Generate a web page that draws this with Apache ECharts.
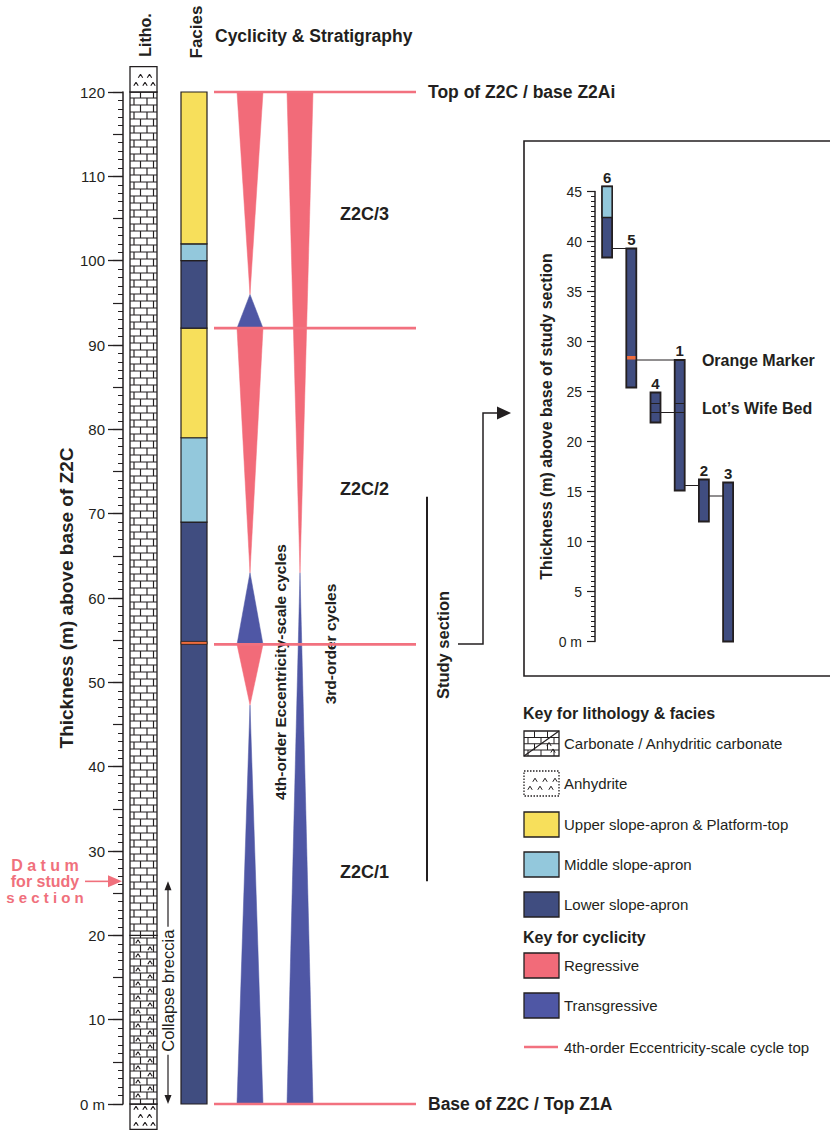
<!DOCTYPE html>
<html><head><meta charset="utf-8">
<script src="https://cdn.jsdelivr.net/npm/echarts@6/dist/echarts.min.js"></script>
<style>html,body{margin:0;padding:0;background:#fff}#chart{width:830px;height:1131px}</style>
</head><body><div id="chart"></div>
<script>
// ================= DATA =================
// Main column (metres above base of Z2C)
const mainAxisTicks = [0, 10, 20, 30, 40, 50, 60, 70, 80, 90, 100, 110, 120];
const lithoFrom = [-3, 0, 20, 120];
const lithoTo   = [0, 20, 120, 123];
const lithoType = ['Anhydrite', 'Anhydritic carbonate', 'Carbonate', 'Anhydrite'];

const faciesFrom = [0, 69, 79, 92, 100, 102];
const faciesTo   = [69, 79, 92, 100, 102, 120];
const faciesType = ['Lower slope-apron', 'Middle slope-apron', 'Upper slope-apron & Platform-top',
                    'Lower slope-apron', 'Middle slope-apron', 'Upper slope-apron & Platform-top'];
const orangeMarkerMain = [54.5, 54.85];

const cycle4From = [0, 47.3, 54.5, 63, 92, 96];
const cycle4To   = [47.3, 54.5, 63, 92, 96, 120];
const cycle4Type = ['Transgressive', 'Regressive', 'Transgressive', 'Regressive', 'Transgressive', 'Regressive'];
const cycle3From = [0, 63];
const cycle3To   = [63, 120];
const cycle3Type = ['Transgressive', 'Regressive'];
const cycleTops  = [0, 54.5, 92, 120];

const unitNames   = ['Z2C/1', 'Z2C/2', 'Z2C/3'];
const unitLabelAt = [27.5, 72.9, 105.5];
const boundaryNames = ['Base of Z2C / Top Z1A', 'Top of Z2C / base Z2Ai'];
const boundaryAt    = [0, 120];
const datumLevel   = 26.4;
const studySection = [26.4, 72.0];

// Inset (metres above base of study section)
const insetAxisTicks = [0, 5, 10, 15, 20, 25, 30, 35, 40, 45];
const sections    = ['6', '5', '4', '1', '2', '3'];
const sectionBase = [38.4, 25.4, 21.9, 15.1, 12.0, 0];
const sectionTop  = [45.5, 39.3, 24.9, 28.15, 16.2, 15.9];
const sectionMiddleFrom = [42.4, null, null, null, null, null];
const orangeMarkerSection = '5';
const orangeMarkerInset = [28.2, 28.55];
const lotsWifeSections = ['4', '1'];
const lotsWifeBed = [22.9, 23.8];
const correlFrom = ['6', '5', '4', '1', '2'];
const correlTo   = ['5', '1', '1', '2', '3'];
const correlAt   = [39.3, 28.15, 22.9, 15.6, 14.55];
const noteNames = ['Orange Marker', 'Lot\u2019s Wife Bed'];
const noteAt    = [28.15, 23.35];

// ================= STYLE / LAYOUT =================
const C = {dark:'#231f20', yellow:'#f7df5b', mid:'#93c8dc', lower:'#404d80', reg:'#f26b79',
  trans:'#4f57a5', orange:'#ef6c3c', pinkLine:'#f2717f', datum:'#f0707c'};
const faciesColor = {'Upper slope-apron & Platform-top':C.yellow, 'Middle slope-apron':C.mid, 'Lower slope-apron':C.lower};
const cycleColor = {'Regressive':C.reg, 'Transgressive':C.trans};
const FONT = 'Liberation Sans, Arial, Helvetica, sans-serif';
const AX = 123; // main axis pixel x (grid left)
const px = v => v - AX; // page pixel x -> main x-axis units (1 unit = 1 px)

function brickSegs(x, y, w, h, rowH) {
  const segs = []; const y1 = y + h;
  for (let k = Math.floor(y / rowH); k * rowH < y1; k++) {
    const ra = Math.max(y, k * rowH), rb = Math.min(y1, (k + 1) * rowH);
    if (rb - ra < 0.5) continue;
    if (k * rowH > y + 0.5) segs.push([x, k * rowH, x + w, k * rowH]);
    const offs = (k % 2 === 0) ? [4, 17, 30] : [10.5, 23.5];
    offs.forEach(o => { if (o < w - 0.5) segs.push([x + o, ra, x + o, rb]); });
  }
  return segs;
}
function caretSegs(x, y, w, h, rowH, offA, offB) {
  const segs = []; const y1 = y + h;
  for (let k = Math.floor(y / rowH); k * rowH < y1; k++) {
    const cy = k * rowH + rowH / 2;
    if (cy - 2 < y || cy + 2 > y1) continue;
    const offs = (k % 2 === 0) ? offA : offB;
    offs.forEach(o => {
      if (o > w - 2) return;
      const cx = x + o;
      segs.push([cx - 2.2, cy + 1.8, cx, cy - 1.8]);
      segs.push([cx, cy - 1.8, cx + 2.2, cy + 1.8]);
    });
  }
  return segs;
}
const segsToPath = segs => segs.map(s => `M${s[0]} ${s[1]}L${s[2]} ${s[3]}`).join('');
const segsToLines = (segs, color, lw) => segs.map(s => ({type:'line', silent:true, shape:{x1:s[0], y1:s[1], x2:s[2], y2:s[3]}, style:{stroke:color, lineWidth:lw}}));

function lithoTexture(type, x, y, w, h) {
  let segs = [];
  if (type === 'Carbonate' || type === 'Anhydritic carbonate') segs = segs.concat(brickSegs(x, y, w, h, 7));
  if (type === 'Anhydritic carbonate') segs = segs.concat(caretSegs(x, y, w, h, 7, [8], [20]));
  if (type === 'Anhydrite') segs = segs.concat(caretSegs(x, y, w, h, 8, [6, 15, 23], [10.5, 19.5]));
  return segs;
}

// ================= SERIES =================
const series = [];
// Lithology column
series.push({type:'custom', xAxisIndex:0, yAxisIndex:0, silent:true, clip:false,
  data: lithoFrom.map((f, i) => [0, f, lithoTo[i]]), encode:{x:0, y:[1, 2]},
  renderItem: (params, api) => {
    const i = params.dataIndex;
    const a = api.coord([px(130), api.value(2)]), b = api.coord([px(157), api.value(1)]);
    const x = a[0], y = a[1], w = b[0] - a[0], h = b[1] - a[1];
    return {type:'group', children:[
      {type:'rect', shape:{x, y, width:w, height:h}, style:{fill:'#fff', stroke:null}},
      {type:'path', shape:{pathData: segsToPath(lithoTexture(lithoType[i], x, y, w, h))}, style:{fill:null, stroke:C.dark, lineWidth:1.15}},
      {type:'rect', shape:{x, y, width:w, height:h}, style:{fill:null, stroke:C.dark, lineWidth:1.3}}
    ]};
  }});
// Facies column
series.push({type:'custom', xAxisIndex:0, yAxisIndex:0, silent:true, clip:false,
  data: faciesFrom.map((f, i) => [0, f, faciesTo[i]]), encode:{x:0, y:[1, 2]},
  renderItem: (params, api) => {
    const i = params.dataIndex;
    const a = api.coord([px(181), api.value(2)]), b = api.coord([px(207), api.value(1)]);
    return {type:'rect', shape:{x:a[0], y:a[1], width:b[0] - a[0], height:b[1] - a[1]},
      style:{fill:faciesColor[faciesType[i]], stroke:C.dark, lineWidth:1.2}};
  }});
// Orange marker in facies column
series.push({type:'custom', xAxisIndex:0, yAxisIndex:0, silent:true, clip:false,
  data: [[0, orangeMarkerMain[0], orangeMarkerMain[1]]], encode:{x:0, y:[1, 2]},
  renderItem: (params, api) => {
    const a = api.coord([px(181), api.value(2)]), b = api.coord([px(207), api.value(1)]);
    return {type:'rect', shape:{x:a[0], y:a[1], width:b[0] - a[0], height:b[1] - a[1]},
      style:{fill:C.orange, stroke:C.dark, lineWidth:0.8}};
  }});
// Cycles (triangles)
function cycleSeries(from, to, type, centre) {
  return {type:'custom', xAxisIndex:0, yAxisIndex:0, silent:true, clip:false,
    data: from.map((f, i) => [0, f, to[i]]), encode:{x:0, y:[1, 2]},
    renderItem: (params, api) => {
      const i = params.dataIndex; const hw = 13;
      const lo = api.value(1), hi = api.value(2);
      const c = px(centre);
      const pts = type[i] === 'Transgressive'
        ? [api.coord([c - hw, lo]), api.coord([c + hw, lo]), api.coord([c, hi])]
        : [api.coord([c, lo]), api.coord([c + hw, hi]), api.coord([c - hw, hi])];
      return {type:'polygon', shape:{points:pts}, style:{fill:cycleColor[type[i]], stroke:cycleColor[type[i]], lineWidth:0.5}};
    }};
}
series.push(cycleSeries(cycle4From, cycle4To, cycle4Type, 250));
series.push(cycleSeries(cycle3From, cycle3To, cycle3Type, 300));
// Cycle-top lines
series.push({type:'custom', xAxisIndex:0, yAxisIndex:0, silent:true, clip:false,
  data: cycleTops.map(v => [0, v]), encode:{x:0, y:1},
  renderItem: (params, api) => {
    const a = api.coord([px(214), api.value(1)]), b = api.coord([px(416), api.value(1)]);
    return {type:'line', shape:{x1:a[0], y1:a[1], x2:b[0], y2:b[1]}, style:{stroke:C.pinkLine, lineWidth:2.6}};
  }});
// Unit labels
series.push({type:'custom', xAxisIndex:0, yAxisIndex:0, silent:true, clip:false,
  data: unitLabelAt.map(v => [0, v]), encode:{x:0, y:1},
  renderItem: (params, api) => {
    const p = api.coord([px(340), api.value(1)]);
    return {type:'text', x:p[0], y:p[1], style:{text:unitNames[params.dataIndex], fill:C.dark,
      font:`bold 18px ${FONT}`, align:'left', verticalAlign:'middle'}};
  }});
// Boundary labels
series.push({type:'custom', xAxisIndex:0, yAxisIndex:0, silent:true, clip:false,
  data: boundaryAt.map(v => [0, v]), encode:{x:0, y:1},
  renderItem: (params, api) => {
    const p = api.coord([px(428), api.value(1)]);
    return {type:'text', x:p[0], y:p[1], style:{text:boundaryNames[params.dataIndex], fill:C.dark,
      font:`bold 17.5px ${FONT}`, align:'left', verticalAlign:'middle'}};
  }});
// Study section bar
series.push({type:'custom', xAxisIndex:0, yAxisIndex:0, silent:true, clip:false,
  data: [[0, studySection[0], studySection[1]]], encode:{x:0, y:[1, 2]},
  renderItem: (params, api) => {
    const a = api.coord([px(427), api.value(1)]), b = api.coord([px(427), api.value(2)]);
    return {type:'line', shape:{x1:a[0], y1:a[1], x2:b[0], y2:b[1]}, style:{stroke:C.dark, lineWidth:2}};
  }});
// Datum arrow + collapse breccia
series.push({type:'custom', xAxisIndex:0, yAxisIndex:0, silent:true, clip:false,
  data: [[0, datumLevel]], encode:{x:0, y:1},
  renderItem: (params, api) => {
    const y = api.coord([0, api.value(1)])[1];
    const yb = api.coord([0, 0])[1];
    const xc = 168, mid = (y + yb) / 2 - 2, half = 64;
    const tf = `bold 16px ${FONT}`;
    return {type:'group', children:[
      {type:'text', x:45, y:y - 16, style:{text:'D a t u m', fill:C.datum, font:tf, align:'center', verticalAlign:'middle'}},
      {type:'text', x:45, y:y, style:{text:'for study', fill:C.datum, font:tf, align:'center', verticalAlign:'middle'}},
      {type:'text', x:45, y:y + 16, style:{text:'s e c t i o n', fill:C.datum, font:`bold 15px ${FONT}`, align:'center', verticalAlign:'middle'}},
      {type:'line', shape:{x1:85, y1:y, x2:110, y2:y}, style:{stroke:C.datum, lineWidth:1.6}},
      {type:'polygon', shape:{points:[[108, y - 6], [122, y], [108, y + 6]]}, style:{fill:C.datum}},
      {type:'line', shape:{x1:xc, y1:y + 6, x2:xc, y2:mid - half}, style:{stroke:C.dark, lineWidth:1.2}},
      {type:'polygon', shape:{points:[[xc - 3.5, y + 9], [xc, y], [xc + 3.5, y + 9]]}, style:{fill:C.dark}},
      {type:'line', shape:{x1:xc, y1:mid + half, x2:xc, y2:yb - 6}, style:{stroke:C.dark, lineWidth:1.2}},
      {type:'polygon', shape:{points:[[xc - 3.5, yb - 9], [xc, yb], [xc + 3.5, yb - 9]]}, style:{fill:C.dark}},
      {type:'text', x:xc, y:mid, rotation:Math.PI / 2, style:{text:'Collapse breccia', fill:C.dark,
        font:`16.5px ${FONT}`, align:'center', verticalAlign:'middle'}}
    ]};
  }});

// ---- Inset ----
const idx = name => sections.indexOf(name);
series.push({type:'custom', xAxisIndex:1, yAxisIndex:2, silent:true, clip:false,
  data: sections.map((s, i) => [i, sectionBase[i], sectionTop[i]]), encode:{x:0, y:[1, 2]},
  renderItem: (params, api) => {
    const i = params.dataIndex, bw = 10;
    const b = api.coord([api.value(0), api.value(1)]), t = api.coord([api.value(0), api.value(2)]);
    const x = b[0] - bw / 2;
    const ch = [{type:'rect', shape:{x, y:t[1], width:bw, height:b[1] - t[1]}, style:{fill:C.lower, stroke:C.dark, lineWidth:1.8}}];
    if (sectionMiddleFrom[i] != null) {
      const m = api.coord([api.value(0), sectionMiddleFrom[i]]);
      ch.push({type:'rect', shape:{x, y:t[1], width:bw, height:m[1] - t[1]}, style:{fill:C.mid, stroke:C.dark, lineWidth:1.4}});
    }
    ch.push({type:'text', x:b[0], y:t[1] - 2, style:{text:sections[i], fill:C.dark, font:`bold 15px ${FONT}`, align:'center', verticalAlign:'bottom'}});
    return {type:'group', children:ch};
  }});
// correlation lines
series.push({type:'custom', xAxisIndex:1, yAxisIndex:2, silent:true, clip:false,
  data: correlAt.map((v, i) => [idx(correlFrom[i]), v, idx(correlTo[i])]), encode:{x:0, y:1},
  renderItem: (params, api) => {
    const a = api.coord([api.value(0), api.value(1)]), b = api.coord([api.value(2), api.value(1)]);
    return {type:'line', shape:{x1:a[0] + 5, y1:a[1], x2:b[0] - 5, y2:b[1]}, style:{stroke:C.dark, lineWidth:1}};
  }});
// Lot's Wife Bed lines inside sections
series.push({type:'custom', xAxisIndex:1, yAxisIndex:2, silent:true, clip:false,
  data: lotsWifeSections.flatMap(s => lotsWifeBed.map(v => [idx(s), v])), encode:{x:0, y:1},
  renderItem: (params, api) => {
    const a = api.coord([api.value(0), api.value(1)]);
    return {type:'line', shape:{x1:a[0] - 5, y1:a[1], x2:a[0] + 5, y2:a[1]}, style:{stroke:C.dark, lineWidth:1}};
  }});
// Orange marker in section 5
series.push({type:'custom', xAxisIndex:1, yAxisIndex:2, silent:true, clip:false,
  data: [[idx(orangeMarkerSection), orangeMarkerInset[0], orangeMarkerInset[1]]], encode:{x:0, y:[1, 2]},
  renderItem: (params, api) => {
    const a = api.coord([api.value(0), api.value(2)]), b = api.coord([api.value(0), api.value(1)]);
    return {type:'rect', shape:{x:a[0] - 4.2, y:a[1], width:8.4, height:b[1] - a[1]}, style:{fill:C.orange}};
  }});
// notes
series.push({type:'custom', xAxisIndex:1, yAxisIndex:2, silent:true, clip:false,
  data: noteAt.map(v => [4, v]), encode:{x:0, y:1},
  renderItem: (params, api) => {
    const a = api.coord([api.value(0), api.value(1)]);
    return {type:'text', x:a[0] - 2, y:a[1], style:{text:noteNames[params.dataIndex], fill:C.dark,
      font:`bold 16px ${FONT}`, align:'left', verticalAlign:'middle'}};
  }});

// ================= GRAPHIC (headers, annotations, key) =================
const G = [];
const txt = (x, y, text, font, opt = {}) => ({type:'text', x, y, rotation:opt.rot || 0, silent:true,
  style:{text, fill:opt.fill || C.dark, font, align:opt.align || 'left', verticalAlign:'middle'}});
G.push(txt(145, 35, 'Litho.', `bold 16px ${FONT}`, {rot:Math.PI / 2, align:'center'}));
G.push(txt(196, 32, 'Facies', `bold 17px ${FONT}`, {rot:Math.PI / 2, align:'center'}));
G.push(txt(215, 36, 'Cyclicity & Stratigraphy', `bold 17.5px ${FONT}`));
G.push(txt(280, 672, '4th-order Eccentricity-scale cycles', `bold 15.5px ${FONT}`, {rot:Math.PI / 2, align:'center'}));
G.push(txt(330, 644, '3rd-order cycles', `bold 15.5px ${FONT}`, {rot:Math.PI / 2, align:'center'}));
G.push(txt(443, 645, 'Study section', `bold 16.5px ${FONT}`, {rot:Math.PI / 2, align:'center'}));
// connector arrow
G.push({type:'polyline', silent:true, shape:{points:[[458, 644], [483, 644], [483, 413], [500, 413]]}, style:{stroke:C.dark, lineWidth:1.5, fill:null}});
G.push({type:'polygon', silent:true, shape:{points:[[497, 406.5], [511, 413], [497, 419.5]]}, style:{fill:C.dark}});
// inset frame
G.push({type:'rect', silent:true, shape:{x:524, y:141, width:330, height:535}, style:{fill:null, stroke:C.dark, lineWidth:1.6}});
// Key
G.push(txt(523, 713, 'Key for lithology & facies', `bold 16px ${FONT}`));
const keyRows = [
  {y:731, label:'Carbonate / Anhydritic carbonate', kind:'carb'},
  {y:771, label:'Anhydrite', kind:'anh'},
  {y:812, label:'Upper slope-apron & Platform-top', fill:C.yellow},
  {y:852, label:'Middle slope-apron', fill:C.mid},
  {y:892, label:'Lower slope-apron', fill:C.lower},
  {y:953, label:'Regressive', fill:C.reg},
  {y:993, label:'Transgressive', fill:C.trans}
];
keyRows.forEach(r => {
  const x = 524, w = 35, h = 25;
  if (r.kind === 'carb') {
    G.push({type:'rect', silent:true, shape:{x, y:r.y, width:w, height:h}, style:{fill:'#fff'}});
    segsToLines(brickSegs(x, r.y, w, h, 6.25), C.dark, 1).forEach(e => G.push(e));
    segsToLines(caretSegs(x + 16, r.y + 11, 17, 13, 6.5, [9], [13]), C.dark, 1).forEach(e => G.push(e));
    G.push({type:'line', silent:true, shape:{x1:x, y1:r.y + h, x2:x + w, y2:r.y}, style:{stroke:C.dark, lineWidth:1.2}});
    G.push({type:'rect', silent:true, shape:{x, y:r.y, width:w, height:h}, style:{fill:null, stroke:C.dark, lineWidth:1.3}});
  } else if (r.kind === 'anh') {
    G.push({type:'rect', silent:true, shape:{x, y:r.y, width:w, height:h}, style:{fill:'#fff'}});
    segsToLines(caretSegs(x, r.y, w, h, 8, [6, 16, 27], [11, 21, 31]), C.dark, 1).forEach(e => G.push(e));
    G.push({type:'rect', silent:true, shape:{x, y:r.y, width:w, height:h}, style:{fill:null, stroke:C.dark, lineWidth:1.3, lineDash:[1.5, 1.5]}});
  } else {
    G.push({type:'rect', silent:true, shape:{x, y:r.y, width:w, height:h}, style:{fill:r.fill, stroke:C.dark, lineWidth:1.3}});
  }
  G.push(txt(564, r.y + 12.5, r.label, `15px ${FONT}`));
});
G.push(txt(523, 937, 'Key for cyclicity', `bold 16px ${FONT}`));
G.push({type:'line', silent:true, shape:{x1:524, y1:1047, x2:558, y2:1047}, style:{stroke:C.pinkLine, lineWidth:2.6}});
G.push(txt(564, 1047, '4th-order Eccentricity-scale cycle top', `15px ${FONT}`));

// ================= OPTION =================
const option = {
  animation:false,
  backgroundColor:'#fff',
  textStyle:{fontFamily:FONT},
  grid:[
    {left:AX, top:92, width:400, height:1012},
    {left:595, top:191.5, width:145.2, height:450}
  ],
  xAxis:[
    {gridIndex:0, type:'value', min:0, max:400, show:false},
    {gridIndex:1, type:'category', data:sections, show:false}
  ],
  yAxis:[
    {gridIndex:0, type:'value', min:mainAxisTicks[0], max:mainAxisTicks[mainAxisTicks.length - 1], interval:10, position:'left',
      axisLine:{show:true, onZero:false, lineStyle:{color:C.dark, width:1.5}},
      axisTick:{show:true, length:15, lineStyle:{color:C.dark, width:1.3}},
      minorTick:{show:true, splitNumber:10, length:5, lineStyle:{color:C.dark, width:1}},
      axisLabel:{color:C.dark, fontSize:15, margin:18, fontFamily:FONT, formatter:v => v === 0 ? '0 m' : String(v)},
      splitLine:{show:false},
      name:'Thickness (m) above base of Z2C', nameLocation:'middle', nameGap:46, nameRotate:90,
      nameTextStyle:{color:C.dark, fontWeight:'bold', fontSize:19, fontFamily:FONT}},
    {gridIndex:0, type:'value', min:0, max:120, interval:5, position:'left',
      axisLine:{show:false, onZero:false}, axisTick:{show:true, length:10, lineStyle:{color:C.dark, width:1.2}},
      axisLabel:{show:false}, splitLine:{show:false}},
    {gridIndex:1, type:'value', min:insetAxisTicks[0], max:insetAxisTicks[insetAxisTicks.length - 1], interval:5, position:'left',
      axisLine:{show:true, onZero:false, lineStyle:{color:C.dark, width:1.5}},
      axisTick:{show:true, length:8, lineStyle:{color:C.dark, width:1.2}},
      minorTick:{show:true, splitNumber:10, length:4, lineStyle:{color:C.dark, width:1}},
      axisLabel:{color:C.dark, fontSize:14, margin:13, fontFamily:FONT, formatter:v => v === 0 ? '0 m' : String(v)},
      splitLine:{show:false},
      name:'Thickness (m) above base of study section', nameLocation:'middle', nameGap:31, nameRotate:90,
      nameTextStyle:{color:C.dark, fontWeight:'bold', fontSize:16, fontFamily:FONT}}
  ],
  series,
  graphic:G
};
const chart = echarts.init(document.getElementById('chart'), null, {renderer:'svg', width:830, height:1131});
chart.setOption(option);
</script>
</body></html>
